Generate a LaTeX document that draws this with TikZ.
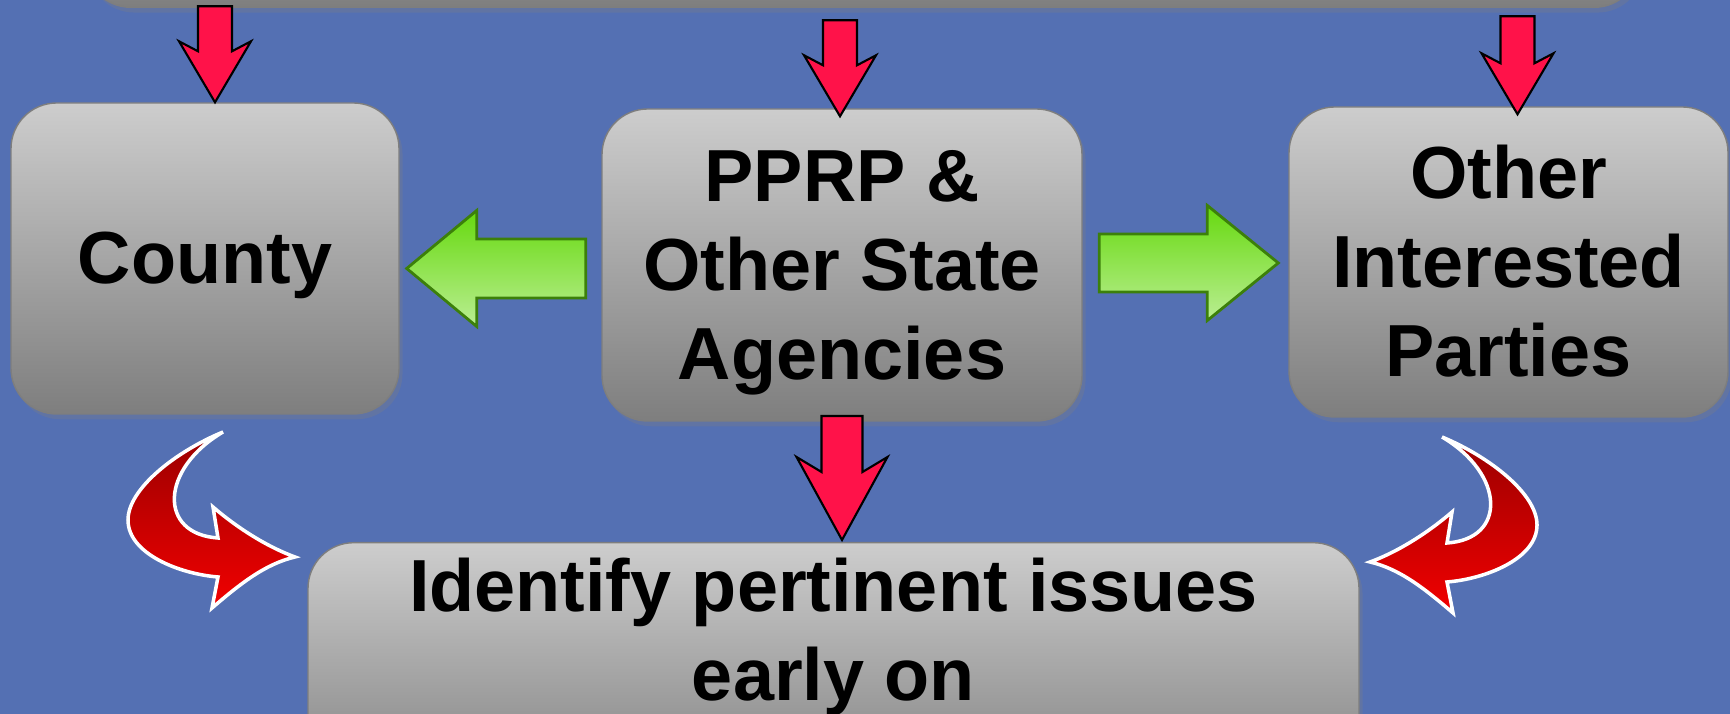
\documentclass[tikz,border=0pt]{standalone}
\usepackage{fontspec}
\setmainfont{Liberation Sans}
\usetikzlibrary{positioning,calc,shadows}
\definecolor{slideblue}{HTML}{5470B3}
\definecolor{boxtop}{HTML}{CDCDCD}
\definecolor{boxbot}{HTML}{7E7E7E}
\definecolor{pinkred}{HTML}{FF1249}
\definecolor{lgreen}{HTML}{66D90E}
\definecolor{dgreen}{HTML}{3C800A}
\definecolor{darkred}{HTML}{990000}
\definecolor{brightred}{HTML}{F20000}

\begin{document}
\begin{tikzpicture}[
  box/.style={draw=boxbot, rounded corners=13pt, top color=boxtop, bottom color=boxbot, align=center, inner sep=0pt, font=\fontsize{21}{25.3}\selectfont\bfseries, drop shadow={opacity=0.3, shadow xshift=1pt, shadow yshift=-1.5pt}},
  downarr/.style={fill=pinkred, draw=black, line width=0.6pt},
  sidearr/.style={top color=lgreen, middle color=lgreen, bottom color=lgreen!45!white, draw=dgreen, line width=0.8pt},
  bentarr/.style={top color=darkred, bottom color=brightred, draw=white, line width=1pt},
]
  \useasboundingbox (0,0) rectangle (17.30,7.14);
  \clip (0,0) rectangle (17.30,7.14);
  \fill[slideblue] (0,0) rectangle (17.30,7.14);

  \node[box, minimum width=15.55cm, minimum height=2cm, anchor=south] (review) at (8.625,7.06) {};
  \node[box, minimum width=3.88cm, minimum height=3.11cm] (county) at (2.05,4.555) {\rule{0pt}{0.67cm}County\rule[-0.16cm]{0pt}{0.16cm}};
  \node[box, minimum width=4.80cm, minimum height=3.12cm] (pprp) at (8.42,4.49) {\rule{0pt}{0.67cm}PPRP \&\\Other State\\Agencies\rule[-0.16cm]{0pt}{0.16cm}};
  \node[box, minimum width=4.39cm, minimum height=3.10cm] (other) at (15.085,4.52) {\rule{0pt}{0.67cm}Other\\Interested\\Parties\rule[-0.16cm]{0pt}{0.16cm}};
  \node[box, minimum width=10.51cm, anchor=north] (issues) at (8.335,1.72) {\rule{0pt}{0.69cm}Identify pertinent issues\\early on\rule[-1cm]{0pt}{1cm}};

  % down arrows
  \draw[downarr] ($(county.north)+(0.10,0)$) -- ++(-0.36,0.61) -- ++(0.19,-0.10) -- ++(0,0.45) -- ++(0.34,0) -- ++(0,-0.45) -- ++(0.19,0.10) -- cycle;
  \draw[downarr] ($(pprp.north)+(-0.02,-0.08)$) -- ++(-0.36,0.61) -- ++(0.19,-0.10) -- ++(0,0.45) -- ++(0.34,0) -- ++(0,-0.45) -- ++(0.19,0.10) -- cycle;
  \draw[downarr] ($(other.north)+(0.09,-0.08)$) -- ++(-0.36,0.61) -- ++(0.19,-0.10) -- ++(0,0.47) -- ++(0.34,0) -- ++(0,-0.47) -- ++(0.19,0.10) -- cycle;
  \draw[downarr] ($(pprp.south |- issues.north)+(0,0.02)$) -- ++(-0.455,0.83) -- ++(0.25,-0.15) -- ++(0,0.56) -- ++(0.41,0) -- ++(0,-0.56) -- ++(0.25,0.15) -- cycle;

  % side arrows
  \draw[sidearr] ($(county.east)+(0.07,-0.10)$) -- ++(0.70,0.58) -- ++(0,-0.285) -- ++(1.09,0) -- ++(0,-0.59) -- ++(-1.09,0) -- ++(0,-0.285) -- cycle;
  \draw[sidearr] ($(other.west)+(-0.10,-0.01)$) -- ++(-0.71,0.575) -- ++(0,-0.285) -- ++(-1.08,0) -- ++(0,-0.58) -- ++(1.08,0) -- ++(0,-0.285) -- cycle;

  % bent arrows
  \draw[bentarr] (2.23,2.82) .. controls (1.75,2.62) and (1.28,2.25) .. (1.28,1.94)
    .. controls (1.28,1.60) and (1.80,1.40) .. (2.18,1.37) -- (2.12,1.06)
    .. controls (2.40,1.30) and (2.65,1.50) .. (2.95,1.57)
    .. controls (2.65,1.68) and (2.35,1.88) .. (2.13,2.07) -- (2.18,1.76)
    .. controls (1.58,1.80) and (1.60,2.45) .. (2.23,2.82) -- cycle;
  \begin{scope}[xshift=16.65cm, yshift=-0.05cm, xscale=-1]
    \draw[bentarr] (2.23,2.82) .. controls (1.75,2.62) and (1.28,2.25) .. (1.28,1.94)
      .. controls (1.28,1.60) and (1.80,1.40) .. (2.18,1.37) -- (2.12,1.06)
      .. controls (2.40,1.30) and (2.65,1.50) .. (2.95,1.57)
      .. controls (2.65,1.68) and (2.35,1.88) .. (2.13,2.07) -- (2.18,1.76)
      .. controls (1.58,1.80) and (1.60,2.45) .. (2.23,2.82) -- cycle;
  \end{scope}
\end{tikzpicture}
\end{document}
